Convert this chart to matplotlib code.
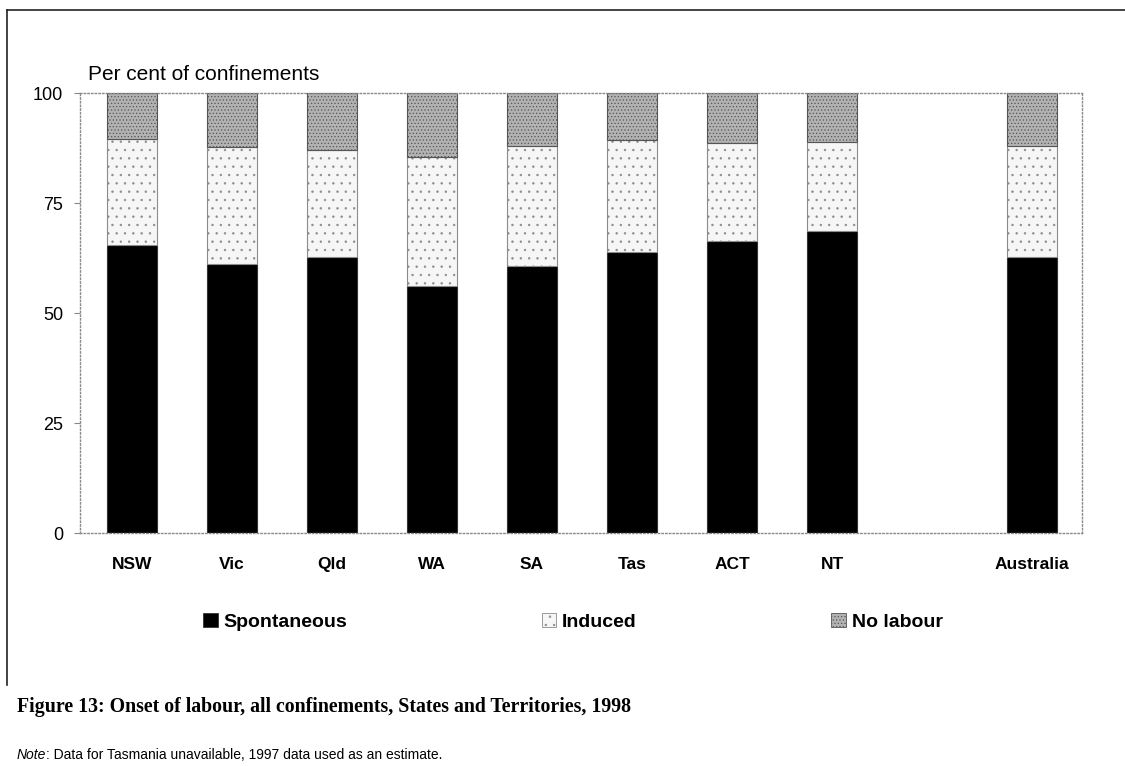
import matplotlib.pyplot as plt
from matplotlib.lines import Line2D
from matplotlib.patches import Patch

# Onset of labour, per cent of confinements, 1998
states      = ['NSW', 'Vic', 'Qld', 'WA', 'SA', 'Tas', 'ACT', 'NT', 'Australia']
x_pos       = [0, 1, 2, 3, 4, 5, 6, 7, 9]   # gap left before Australia
spontaneous = [65.5, 61.1, 62.8, 56.1, 60.8, 63.8, 66.5, 68.6, 62.7]
induced     = [24.0, 26.6, 24.4, 29.3, 27.2, 25.5, 22.1, 20.3, 25.4]
no_labour   = [10.5, 12.3, 12.8, 14.6, 12.0, 10.7, 11.4, 11.1, 11.9]
y_ticks     = [0, 25, 50, 75, 100]

series_names   = ['Spontaneous', 'Induced', 'No labour']
series_colors  = ['#000000', '#f6f6f6', '#b2b2b2']
series_hatches = [None, '..', '.....']
series_edges   = ['#333333', '#8c8c8c', '#555555']

plt.rcParams['hatch.linewidth'] = 0.5

W, H = 1125, 766
fig = plt.figure(figsize=(W / 100, H / 100), dpi=100)
ax = fig.add_axes([80 / W, (H - 533) / H, 1002 / W, (533 - 93.3) / H])

bottom = [0] * len(states)
for name, vals, col, hat, ec in zip(series_names, [spontaneous, induced, no_labour],
                                    series_colors, series_hatches, series_edges):
    ax.bar(x_pos, vals, width=0.5, bottom=bottom, color=col, hatch=hat,
           edgecolor=ec, linewidth=0.8, label=name)
    bottom = [b + v for b, v in zip(bottom, vals)]

ax.set_xlim(-0.52, 9.5)
ax.set_ylim(0, 100)
ax.set_yticks(y_ticks)
ax.set_yticklabels([str(t) for t in y_ticks], fontsize=13, family='Liberation Sans')
ax.set_xticks(x_pos)
ax.set_xticklabels(states, fontsize=12.5, fontweight='bold', family='Liberation Sans')
ax.tick_params(axis='x', length=0, pad=17)
ax.tick_params(axis='y', length=4, width=0.8, color='#888888', pad=8)
for side in ['left', 'right', 'top', 'bottom']:
    ax.spines[side].set_linestyle(':')
    ax.spines[side].set_color('#8a8a8a')
    ax.spines[side].set_linewidth(1.0)

ax.text(0.008, 1.03, 'Per cent of confinements', transform=ax.transAxes,
        fontsize=15, family='Liberation Sans', va='baseline', ha='left')

handles = [Patch(facecolor=c, edgecolor=e, hatch=h, linewidth=0.6)
           for c, e, h in zip(series_colors, series_edges, series_hatches)]
fig.legend(handles, series_names, loc='center', bbox_to_anchor=(573 / W, 1 - 622 / H),
           ncol=3, frameon=False, handlelength=0.75, handleheight=0.75,
           handletextpad=0.3, columnspacing=10,
           prop={'family': 'Liberation Sans', 'size': 14, 'weight': 'bold'})

# page frame around the figure
fig.add_artist(Line2D([7 / W, 1], [1 - 10 / H, 1 - 10 / H], transform=fig.transFigure,
                      color='#222222', lw=1.2))
fig.add_artist(Line2D([7 / W, 7 / W], [1 - 10 / H, 1 - 685 / H], transform=fig.transFigure,
                      color='#222222', lw=1.2))

fig.text(17 / W, 1 - 707 / H,
         'Figure 13: Onset of labour, all confinements, States and Territories, 1998',
         fontsize=14.3, family='Liberation Serif', fontweight='bold', va='center', ha='left')

note = fig.text(17 / W, 1 - 755 / H, 'Note', fontsize=10, family='Liberation Sans',
                style='italic', va='center', ha='left')
fig.canvas.draw()
bb = note.get_window_extent()
fig.text(bb.x1 / W, 1 - 755 / H, ': Data for Tasmania unavailable, 1997 data used as an estimate.',
         fontsize=10, family='Liberation Sans', va='center', ha='left')

fig.savefig('out.png', dpi=100)
